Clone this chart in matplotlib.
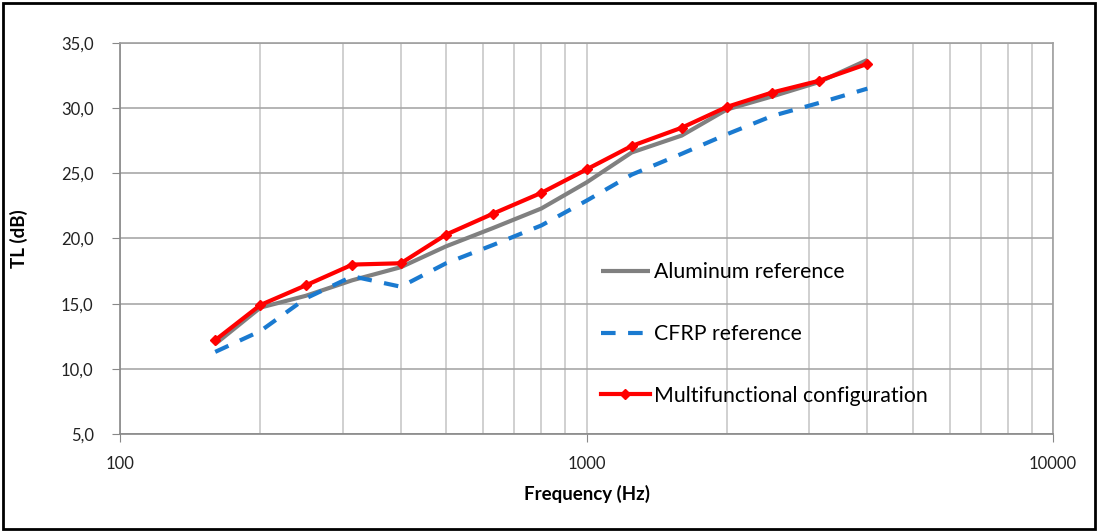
import matplotlib
matplotlib.use("Agg")
import matplotlib.pyplot as plt
from matplotlib.patches import Rectangle
from matplotlib.ticker import FuncFormatter, LogLocator, NullFormatter, FixedLocator

freq = [160, 200, 250, 315, 400, 500, 630, 800, 1000, 1250, 1600, 2000, 2500, 3150, 4000]
aluminum = [11.9, 14.7, 15.6, 16.8, 17.8, 19.4, 20.8, 22.3, 24.3, 26.6, 27.9, 29.9, 30.9, 32.0, 33.7]
cfrp = [11.3, 12.9, 15.4, 17.1, 16.3, 18.1, 19.5, 21.0, 22.9, 24.9, 26.5, 28.0, 29.4, 30.4, 31.5]
multifunctional = [12.2, 14.9, 16.4, 18.0, 18.1, 20.3, 21.9, 23.5, 25.3, 27.1, 28.5, 30.1, 31.2, 32.1, 33.4]
labels = ["Aluminum reference", "CFRP reference", "Multifunctional configuration"]
y_ticks = [5, 10, 15, 20, 25, 30, 35]
x_ticks = [100, 1000, 10000]

plt.rcParams['font.family'] = ['Lato', 'DejaVu Sans']

fig = plt.figure(figsize=(10.98, 5.31), dpi=100)
ax = fig.add_axes([120/1098, (531-434)/531, (1053-120)/1098, (434-43)/531])

ax.plot(freq, aluminum, color='#808080', lw=3, label=labels[0], solid_capstyle='butt')
ax.plot(freq, cfrp, color='#1a7ad0', lw=3, ls=(0, (3.5, 3)), label=labels[1])
ax.plot(freq, multifunctional, color='#ff0000', lw=3, marker='D', ms=5.5, label=labels[2])

ax.set_xscale('log')
ax.set_xlim(100, 10000)
ax.set_ylim(5, 35)
ax.xaxis.set_major_locator(FixedLocator(x_ticks))
ax.xaxis.set_major_formatter(FuncFormatter(lambda v, p: f"{int(v)}"))
ax.xaxis.set_minor_locator(LogLocator(base=10, subs=range(2, 10)))
ax.xaxis.set_minor_formatter(NullFormatter())
ax.set_yticks(y_ticks)
ax.yaxis.set_major_formatter(FuncFormatter(lambda v, p: f"{v:.1f}".replace('.', ',')))

ax.grid(True, which='major', axis='y', color='#a8a8a8', lw=1.2)
ax.grid(True, which='both', axis='x', color='#c8c8c8', lw=1.2)
ax.set_axisbelow(True)

for s in ax.spines.values():
    s.set_color('#a0a0a0')
    s.set_linewidth(1.2)
ax.spines['left'].set_color('#888888')
ax.spines['bottom'].set_color('#888888')

ax.tick_params(axis='both', which='major', direction='out', length=6, color='#888888',
               labelsize=12, labelcolor='#222222')
ax.tick_params(axis='y', which='major', pad=13)
ax.tick_params(axis='x', which='minor', length=0)
ax.tick_params(axis='x', which='major', pad=10)

ax.set_xlabel("Frequency (Hz)", fontsize=13.5, fontweight='bold', labelpad=9)
ax.set_ylabel("TL (dB)", fontsize=13.5, fontweight='bold', labelpad=24)

leg = ax.legend(loc='upper left', bbox_to_anchor=((592-120)/933, (434-254)/391),
                frameon=False, fontsize=15.3, handlelength=2.35, handletextpad=0.15,
                labelspacing=1.96, borderaxespad=0)

fig.patches.append(Rectangle((0.003, 0.004), 0.994, 0.99, transform=fig.transFigure,
                             fill=False, edgecolor='black', lw=2))

fig.savefig('out.png', dpi=100)
